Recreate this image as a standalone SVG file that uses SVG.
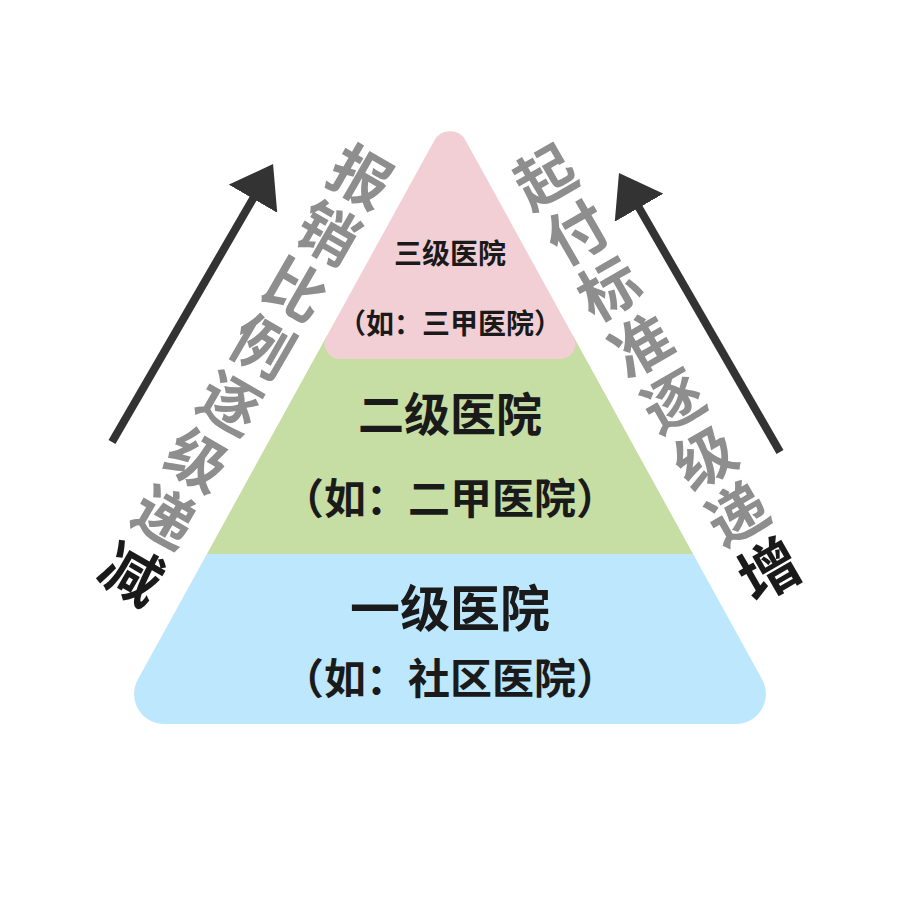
<svg xmlns="http://www.w3.org/2000/svg" width="900" height="900" viewBox="0 0 900 900">
<style>
text{font-family:"Noto Sans CJK SC","Noto Sans",sans-serif;font-weight:bold;text-anchor:middle;dominant-baseline:central}
.dark{fill:#1a1a1a}
.gray{fill:#8e8e8e;font-size:60px}
.big{fill:#1a1a1a;font-size:60px}
.arrowline{stroke:#333333;stroke-width:8;fill:none}
</style>
<defs>
<marker id="head" viewBox="0 0 40 56" refX="2" refY="28" markerWidth="40" markerHeight="56" markerUnits="userSpaceOnUse" orient="auto">
<path d="M0,0 L40,28 L0,56 Z" fill="#333333"/>
</marker>
</defs>
<rect width="900" height="900" fill="#ffffff"/>
<g id="tier1">
<path d="M207.45,553 L137.8,679.5 A30,30 0 0 0 164.1,724 L735.9,724 A30,30 0 0 0 762.2,679.5 L692.55,553 Z" fill="#bde7fc"/>
<text x="450" y="605" class="dark" font-size="50">一级医院</text>
<text x="450" y="675" class="dark" font-size="42">（如：社区医院）</text>
</g>
<g id="tier2">
<path d="M327.35,335 L206.9,554 L693.1,554 L572.65,335 Z" fill="#c6dda4"/>
<text x="450" y="411" class="dark" font-size="46">二级医院</text>
<text x="450" y="495" class="dark" font-size="42">（如：二甲医院）</text>
</g>
<g id="tier3">
<path d="M434.2,140.7 A18,18 0 0 1 465.8,140.7 L573.6,336.8 A15,15 0 0 1 560.5,359 L339.5,359 A15,15 0 0 1 326.4,336.8 Z" fill="#f2cfd5"/>
<text x="450" y="252" class="dark" font-size="28">三级医院</text>
<text x="450" y="322" class="dark" font-size="28">（如：三甲医院）</text>
</g>
<g id="connectors">
<line class="arrowline" x1="112" y1="442" x2="254" y2="197" marker-end="url(#head)"/>
<line class="arrowline" x1="780" y1="452" x2="638" y2="206" marker-end="url(#head)"/>
</g>
<g id="label-left">
<text class="gray" transform="translate(363,173) rotate(30)">报</text>
<text class="gray" transform="translate(330.25,229.7) rotate(30)">销</text>
<text class="gray" transform="translate(297.5,286.4) rotate(30)">比</text>
<text class="gray" transform="translate(264.75,343.2) rotate(30)">例</text>
<text class="gray" transform="translate(232,399.9) rotate(30)">逐</text>
<text class="gray" transform="translate(199.25,456.6) rotate(30)">级</text>
<text class="gray" transform="translate(166.5,513.3) rotate(30)">递</text>
<text class="big" transform="translate(133.75,570) rotate(30)">减</text>
</g>
<g id="label-right">
<text class="gray" transform="translate(543,173) rotate(-30)">起</text>
<text class="gray" transform="translate(575,229.2) rotate(-30)">付</text>
<text class="gray" transform="translate(607,285.4) rotate(-30)">标</text>
<text class="gray" transform="translate(639,341.6) rotate(-30)">准</text>
<text class="gray" transform="translate(671,397.8) rotate(-30)">逐</text>
<text class="gray" transform="translate(703,454) rotate(-30)">级</text>
<text class="gray" transform="translate(735,510.2) rotate(-30)">递</text>
<text class="big" transform="translate(767,566.4) rotate(-30)">增</text>
</g>
</svg>
